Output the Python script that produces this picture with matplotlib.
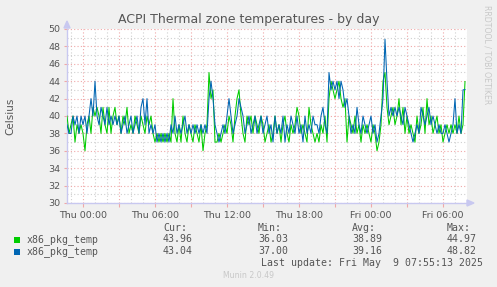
import matplotlib
matplotlib.use("Agg")
import matplotlib.pyplot as plt
import matplotlib.dates as mdates
import pandas as pd
import numpy as np

# ---------------- data (10-minute samples, Wed 22:40 -> Fri 07:50) ----------------
start_time = "2025-05-07 22:40"
sample_freq = "10min"

green_vals = [
    40, 38, 39, 40, 37, 39, 38, 39, 38, 36, 39, 40, 38, 41, 40, 41, 40, 38, 41, 39, 38, 41, 38, 40, 41,
    39, 40, 38, 40, 39, 41, 38, 39, 38, 40, 39, 38, 40, 39, 38, 40, 39, 40, 38, 37, 38, 37, 38, 37, 38,
    37, 38, 37, 42, 38, 37, 39, 37, 40, 38, 37, 39, 38, 37, 39, 38, 37, 39, 36, 38, 39, 45, 42, 43, 37,
    37, 38, 37, 38, 39, 38, 40, 39, 37, 40, 42, 43, 40, 38, 37, 40, 39, 40, 38, 40, 39, 38, 40, 39, 37,
    38, 39, 37, 38, 40, 38, 39, 37, 39, 40, 38, 37, 39, 38, 39, 41, 40, 38, 39, 38, 37, 41, 39, 38, 37,
    38, 37, 39, 38, 40, 37, 42, 44, 43, 42, 43, 44, 42, 41, 42, 37, 40, 39, 38, 40, 38, 39, 37, 39, 38,
    39, 38, 37, 39, 38, 36, 37, 39, 44, 45, 41, 39, 40, 41, 39, 40, 42, 39, 41, 38, 40, 38, 39, 38, 37,
    40, 38, 39, 41, 38, 42, 39, 40, 38, 39, 40, 38, 39, 37, 38, 39, 38, 39, 38, 39, 38, 40, 38, 39, 43.96,
]
blue_vals = [
    39, 38, 38, 40, 39, 40, 38, 40, 39, 40, 38, 40, 42, 40, 44, 40, 39, 41, 40, 39, 41, 39, 40, 39, 40,
    39, 40, 38, 39, 40, 38, 39, 40, 38, 39, 40, 38, 41, 42, 39, 42, 38, 39, 38, 39, 37, 38, 37, 38, 37,
    38, 37, 39, 38, 40, 38, 39, 38, 39, 40, 38, 39, 38, 39, 38, 39, 38, 39, 38, 39, 38, 42, 44, 42, 39,
    38, 37, 38, 39, 38, 40, 42, 40, 38, 39, 40, 42, 41, 40, 38, 39, 40, 38, 39, 40, 38, 39, 40, 38, 39,
    40, 38, 39, 37, 40, 38, 39, 38, 40, 37, 39, 38, 40, 39, 38, 40, 38, 39, 37, 40, 38, 39, 38, 40, 39,
    39, 38, 40, 41, 39, 38, 45, 43, 44, 43, 44, 42, 44, 43, 41, 42, 40, 38, 39, 38, 41, 39, 38, 40, 39,
    38, 39, 40, 38, 39, 37, 38, 40, 42, 48.82, 44, 40, 41, 40, 41, 40, 41, 40, 39, 41, 40, 39, 38, 37, 38,
    39, 38, 41, 40, 39, 40, 41, 39, 40, 39, 38, 39, 38, 38, 39, 38, 37, 38, 39, 42, 38, 39, 38, 43, 43.04,
]

series_names = ["x86_pkg_temp", "x86_pkg_temp"]
series_colors = ["#00CC00", "#0066B3"]
cur_vals = ["43.96", "43.04"]
min_vals = ["36.03", "37.00"]
avg_vals = ["38.89", "39.16"]
max_vals = ["44.97", "48.82"]

title = "ACPI Thermal zone temperatures - by day"
ylabel = "Celsius"
last_update = "Last update: Fri May  9 07:55:13 2025"

x_start = "2025-05-07 22:40"
x_end = "2025-05-09 08:00"
y_min, y_max = 30, 50

# ---------------- figure ----------------
W, H = 497, 287
fig = plt.figure(figsize=(W / 100, H / 100), dpi=100, facecolor="#F0F0F0")
ax = fig.add_axes([67 / W, (H - 203) / H, 400 / W, 174 / H])
ax.set_facecolor("white")

times = pd.date_range(start_time, periods=len(green_vals), freq=sample_freq)
for vals, col in [(green_vals, series_colors[0]), (blue_vals, series_colors[1])]:
    ax.plot(times, vals, color=col, lw=0.75, zorder=3)

ax.set_xlim(pd.Timestamp(x_start), pd.Timestamp(x_end))
ax.set_ylim(y_min, y_max)

grid_minor = "#D0D0D0"
grid_major = "#F0A8A8"
dot = (0, (1, 2))

ax.yaxis.set_major_locator(matplotlib.ticker.MultipleLocator(2))
ax.yaxis.set_minor_locator(matplotlib.ticker.MultipleLocator(1))
ax.xaxis.set_major_locator(mdates.HourLocator(byhour=range(0, 24, 3)))
ax.xaxis.set_minor_locator(mdates.HourLocator())


def xfmt(v, pos):
    d = mdates.num2date(v)
    if d.hour % 6 == 0:
        return d.strftime("%a %H:%M")
    return ""


ax.xaxis.set_major_formatter(matplotlib.ticker.FuncFormatter(xfmt))

ax.grid(which="minor", color=grid_minor, lw=0.8, linestyle=dot, zorder=1)
ax.grid(which="major", color=grid_major, lw=0.8, linestyle=dot, zorder=2)
ax.set_axisbelow(True)

text_col = "#555555"
ax.tick_params(axis="both", which="major", labelsize=6.8, labelcolor=text_col,
               length=3, width=0.8, color="#F0A8A8", pad=3)
ax.tick_params(axis="both", which="minor", length=0)
ax.tick_params(axis="y", which="major", length=2, color="#F0A8A8", pad=3)

for s in ["top", "right"]:
    ax.spines[s].set_visible(False)
for s in ["left", "bottom"]:
    ax.spines[s].set_color("#C8C8F0")
    ax.spines[s].set_linewidth(1.0)

fig.patches.append(matplotlib.patches.Polygon(
    [[64 / W, 1 - 28 / H], [70 / W, 1 - 28 / H], [67 / W, 1 - 21 / H]],
    closed=True, transform=fig.transFigure, color="#C8C8F0", zorder=5))
fig.patches.append(matplotlib.patches.Polygon(
    [[467 / W, 1 - 200 / H], [467 / W, 1 - 206 / H], [474 / W, 1 - 203 / H]],
    closed=True, transform=fig.transFigure, color="#C8C8F0", zorder=5))


def fx(x):
    return x / W


def fy(y):
    return 1 - y / H


fig.text(fx(248.5), fy(19), title, ha="center", va="center", fontsize=9, color=text_col)
fig.text(fx(10), fy(116), ylabel, ha="center", va="center", rotation=90, fontsize=7.5, color=text_col)
fig.text(fx(487), fy(5), "RRDTOOL / TOBI OETIKER", ha="center", va="top", rotation=-90,
         fontsize=5.6, color="#C8C8C8")
fig.text(fx(249), fy(276), "Munin 2.0.49", ha="center", va="center", fontsize=5.6, color="#C8C8C8")

mono = "DejaVu Sans Mono"
ms = 7.1
fig.text(fx(163), fy(228), "Cur:", ha="left", va="center", family=mono, fontsize=ms, color=text_col)
fig.text(fx(258), fy(228), "Min:", ha="left", va="center", family=mono, fontsize=ms, color=text_col)
fig.text(fx(352), fy(228), "Avg:", ha="left", va="center", family=mono, fontsize=ms, color=text_col)
fig.text(fx(447), fy(228), "Max:", ha="left", va="center", family=mono, fontsize=ms, color=text_col)

rows_y = [239.5, 251.5]
for i in range(2):
    y = rows_y[i]
    fig.patches.append(matplotlib.patches.Rectangle(
        (fx(14), fy(y + 3)), 6 / W, 6 / H, transform=fig.transFigure,
        facecolor=series_colors[i], edgecolor="none"))
    fig.text(fx(27), fy(y), series_names[i], ha="left", va="center", family=mono, fontsize=ms, color=text_col)
    fig.text(fx(163), fy(y), cur_vals[i], ha="left", va="center", family=mono, fontsize=ms, color=text_col)
    fig.text(fx(258), fy(y), min_vals[i], ha="left", va="center", family=mono, fontsize=ms, color=text_col)
    fig.text(fx(352), fy(y), avg_vals[i], ha="left", va="center", family=mono, fontsize=ms, color=text_col)
    fig.text(fx(447), fy(y), max_vals[i], ha="left", va="center", family=mono, fontsize=ms, color=text_col)

fig.text(fx(483), fy(263.5), last_update, ha="right", va="center", family=mono, fontsize=ms, color=text_col)

fig.savefig("out.png", dpi=100, facecolor=fig.get_facecolor())
